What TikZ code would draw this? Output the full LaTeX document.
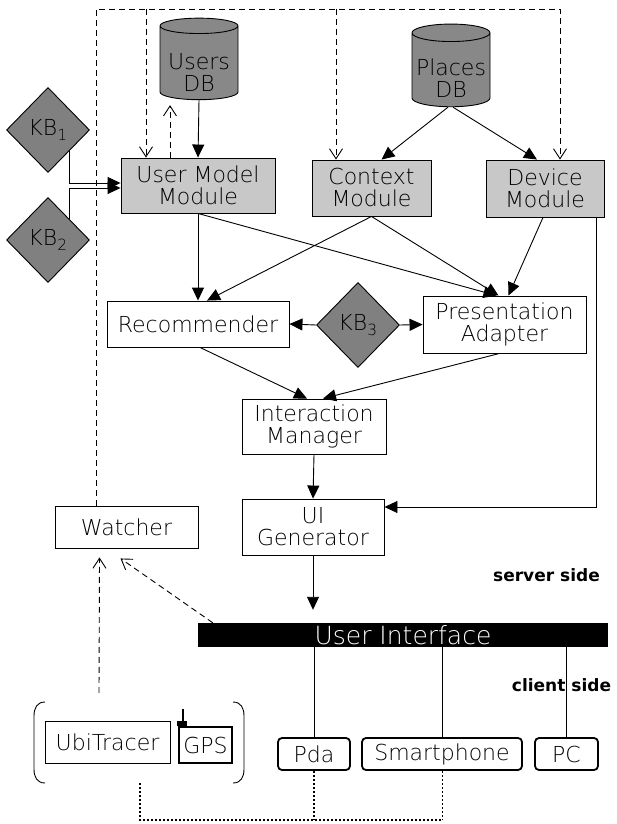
\documentclass[tikz,border=0pt]{standalone}
\usepackage{fontspec}
\setmainfont{DejaVu Sans ExtraLight}[BoldFont={DejaVu Sans Bold}]
\usetikzlibrary{arrows.meta,calc,shapes.geometric}

\definecolor{modgray}{RGB}{200,200,200}
\definecolor{kbgray}{RGB}{128,128,128}
\definecolor{dbgray}{RGB}{136,136,136}

\tikzset{
	every node/.style={font=\fontsize{22}{22}\selectfont, inner sep=0pt, align=center},
	plainbox/.style={draw, line width=0.9pt, fill=white},
	modbox/.style={plainbox, fill=modgray},
	devbox/.style={draw, line width=1.8pt, rounded corners=4pt, minimum height=32},
	kbnode/.style={diamond, draw, line width=0.9pt, fill=kbgray, minimum width=83, minimum height=85},
	dbase/.style={cylinder, shape border rotate=90, aspect=0.25, draw, line width=0.9pt, fill=dbgray, minimum width=78, minimum height=80},
	sidelabel/.style={font=\bfseries\fontsize{17}{17}\selectfont},
	tri/.style={line width=0.9pt, -{Triangle[length=13pt,width=12pt]}},
	barb/.style={line width=0.9pt, -{Straight Barb[length=10pt,width=13pt]}},
	dashline/.style={dash pattern=on 6pt off 4pt},
	dotline/.style={line width=2pt, dash pattern=on 2pt off 2pt},
}

\begin{document}
\begin{tikzpicture}[x=1pt, y=-1pt]
	\useasboundingbox (0,0) rectangle (616,824);
	
	%%%%% server side %%%%%
	\node[dbase] (usersdb) at (199,63) {\rule{0pt}{36pt}Users\\DB};
	\node[dbase] (placesdb) at (451,70) {\rule{0pt}{34pt}Places\\DB};
	
	\node[kbnode] (kb1) at (48,130) {KB\textsubscript{1}};
	\node[kbnode] (kb2) at (48,240) {KB\textsubscript{2}};
	
	\node[modbox, minimum width=154, minimum height=55] (um) at (198,185.5) {User Model\\Module};
	\node[modbox, minimum width=119, minimum height=56] (ctx) at (371.5,188) {Context\\Module};
	\node[modbox, minimum width=118, minimum height=57] (dev) at (545,188.5) {Device\\Module};
	
	\node[plainbox, minimum width=182, minimum height=46] (rec) at (198,324) {Recommender};
	\node[kbnode] (kb3) at (358,325) {KB\textsubscript{3}};
	\node[plainbox, minimum width=163, minimum height=57] (pa) at (504.5,324.5) {Presentation\\Adapter};
	
	\node[plainbox, minimum width=144, minimum height=55] (im) at (314,426.5) {Interaction\\Manager};
	\node[plainbox, minimum width=142, minimum height=56] (uig) at (313,527) {UI\\Generator};
	\node[plainbox, minimum width=143, minimum height=42] (watcher) at (126.5,527) {Watcher};
	
	\node[sidelabel] (server) at (546.5,575) {server side};
	
	%%%%% client side %%%%%
	\node[fill=black, text=white, minimum width=410, minimum height=24, font=\fontsize{25}{25}\selectfont] (ui) at (403,635) {User Interface};
	\node[sidelabel] (client) at (561.5,685) {client side};
	
	\node[devbox, minimum width=72] (pda) at (314,754) {Pda};
	\node[devbox, minimum width=160] (smart) at (442,754) {Smartphone};
	\node[devbox, minimum width=63] (pc) at (566.5,754) {PC};
	
	\node[minimum width=212, minimum height=81] (tracker) at (139,742.5) {};
	\node[plainbox, minimum width=125, minimum height=42] (ubi) at (107.5,742) {UbiTracer};
	\node[plainbox, line width=1.8pt, minimum width=53, minimum height=36] (gps) at (205.5,745) {GPS};
	\fill ($(gps.north west)+(-0.9,0)$) rectangle ++(10,-5);
	\draw[line width=1.5pt] ($(gps.north west)+(5,-5)$) -- ++(0,-12);
	
	% brackets round the tracker
	\draw[line width=0.9pt] (45,702) .. controls (37,702) and (34,708) .. (34,716) -- (34,769) .. controls (34,777) and (37,783) .. (45,783);
	\draw[line width=0.9pt] (233,702) .. controls (241,702) and (244,708) .. (244,716) -- (244,769) .. controls (244,777) and (241,783) .. (233,783);
	
	%%%%% connections %%%%%
	\coordinate (loopL) at (96,9);
	\coordinate (loopR) at (560,9);
	\coordinate (umfeed) at (146,9);
	\coordinate (ctxfeed) at (336,9);
	\draw[dashline, barb] (watcher.north -| loopL) -- (loopL) -- (loopR) -- (dev.north -| loopR);
	\draw[dashline, barb] (umfeed) -- (um.north -| umfeed);
	\draw[dashline, barb] (ctxfeed) -- (ctx.north -| ctxfeed);
	\draw[dashline, barb, shorten >=5pt] (um.north -| 170,0) -- (usersdb.south -| 170,0);
	
	\draw[tri] (usersdb.south) -- (um.north);
	\draw[tri] ($(placesdb.south)+(-3,0)$) -- ($(ctx.north)+(10,0)$);
	\draw[tri] ($(placesdb.south)+(2,0)$) -- ($(dev.north)+(-8,0)$);
	
	\draw[tri] (kb1.south east) |- ($(um.west)+(0,-2.5)$);
	\draw[tri] (kb2.north east) |- ($(um.west)+(0,2.5)$);
	
	\draw[tri] (um.south) -- (rec.north);
	\draw[tri] (um.south) -- ($(pa.north)+(-8,0)$);
	\draw[tri] (ctx.south) -- ($(rec.north)+(9,0)$);
	\draw[tri] (ctx.south) -- ($(pa.north)+(-6,0)$);
	\draw[tri] ($(dev.south)+(-2,0)$) -- ($(pa.north)+(4,0)$);
	\draw[tri] (kb3.west) -- (rec.east);
	\draw[tri] (kb3.east) -- (pa.west);
	
	\draw[tri] ($(rec.south)+(2,0)$) -- ($(im.north)+(-7,0)$);
	\draw[tri] ($(pa.south)+(-5,0)$) -- ($(im.north)+(9,0)$);
	\draw[tri] (im.south) -- (uig.north);
	\draw[tri] ($(dev.south east)+(-8,0)$) |- ($(uig.east)+(0,-20)$);
	\draw[tri, shorten >=13pt] (uig.south) -- (uig.south |- ui.north);
	
	\draw[line width=0.9pt] (ui.south -| pda.north) -- (pda.north);
	\draw[line width=0.9pt] (ui.south -| smart.north) -- (smart.north);
	\draw[line width=0.9pt] (ui.south -| pc.north) -- (pc.north);
	
	\draw[dashline, barb] ($(ui.north west)+(15,0)$) -- ($(watcher.south)+(-6,10)$);
	\draw[dashline, barb] ($(tracker.north)+(-40,-9)$) -- ($(watcher.south)+(-27,9)$);
	
	\coordinate (dotcorner) at (140,820);
	\draw[dotline] ($(tracker.south)+(1,0)$) -- (dotcorner) -- (dotcorner -| smart.south);
	\draw[dotline] (pda.south) -- (pda.south |- dotcorner);
	\draw[line width=0.9pt, dash pattern=on 2pt off 2pt] (smart.south) -- (smart.south |- dotcorner);
\end{tikzpicture}
\end{document}
